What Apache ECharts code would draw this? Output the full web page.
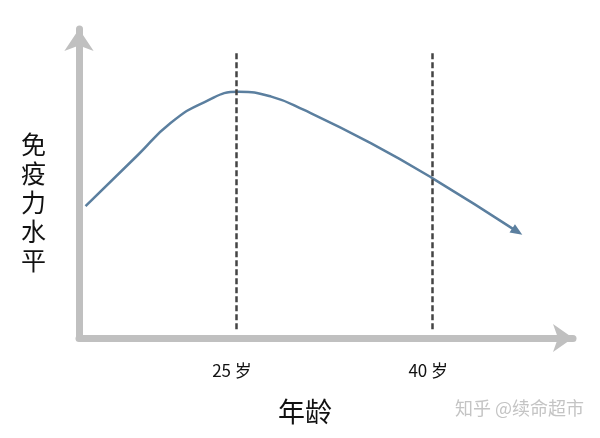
<!DOCTYPE html>
<html>
<head>
<meta charset="utf-8">
<script src="https://cdn.jsdelivr.net/npm/echarts@6/dist/echarts.min.js"></script>
<style>html,body{margin:0;padding:0;background:#fff}#c{width:600px;height:438px}</style>
</head>
<body>
<div id="c"></div>
<script>
// Data (age in years, immunity level on a 0-100 scale)
const ages = [13.5, 17.5, 20.0, 22.6, 25.2, 27.7, 30.2, 35.3, 40.0, 46.5];
const immunity = [43.4, 60.2, 70.7, 77.6, 81.0, 79.4, 75.0, 64.1, 52.6, 35.0];
const markerAges = [25, 40];
const tickLabels = ['25 岁', '40 岁'];
const xName = '年龄';
const yName = '免疫力水平';
const watermark = '知乎 @续命超市';

const font = '"Noto Sans CJK SC", "Noto Sans", sans-serif';
const points = ages.map((a, i) => {
  const p = [a, immunity[i]];
  if (i === ages.length - 1) {
    return { value: p, symbol: 'triangle', symbolSize: [10, 12], symbolRotate: -123 };
  }
  return { value: p, symbol: 'none' };
});

const chart = echarts.init(document.getElementById('c'), null, { renderer: 'canvas' });
chart.setOption({
  animation: false,
  backgroundColor: '#fff',
  grid: { left: 79, right: 27, top: 29, bottom: 100 },
  xAxis: {
    type: 'value', min: 13, max: 50.76,
    splitLine: { show: false },
    axisLine: { show: true, lineStyle: { color: '#c0c0c0', width: 7 }, symbol: ['none', 'arrow'], symbolSize: [21, 20] },
    axisTick: { show: false },
    axisLabel: {
      show: true, customValues: markerAges, margin: 24,
      formatter: v => tickLabels[markerAges.indexOf(v)] || '',
      color: '#111', fontSize: 17, fontFamily: font, padding: [0, 8, 0, 0]
    },
    name: xName, nameLocation: 'middle', nameGap: 60,
    nameTextStyle: { color: '#111', fontSize: 27, fontFamily: font, padding: [0, 42, 0, 0] },
  },
  yAxis: {
    type: 'value', min: 0, max: 101.64,
    splitLine: { show: false },
    axisLine: { show: true, lineStyle: { color: '#c0c0c0', width: 7 }, symbol: ['none', 'arrow'], symbolSize: [22, 22] },
    axisTick: { show: false },
    axisLabel: { show: false },
  },
  graphic: [
    { type: 'text', left: 21, top: 130, style: { text: yName.split('').join('\n'), font: '25px ' + font, fill: '#111', lineHeight: 29 } },
    { type: 'text', left: 455, top: 399, style: { text: watermark, font: '18px ' + font, fill: '#c4c4c4' } }
  ],
  series: [{
    type: 'line',
    smooth: 0.5,
    data: points,
    lineStyle: { color: '#5b7f9f', width: 2.5 },
    itemStyle: { color: '#5b7f9f' },
    z: 3,
    markLine: {
      silent: true, symbol: ['none', 'none'], label: { show: false },
      lineStyle: { color: '#444', width: 2.5, type: [6, 3] },
      data: markerAges.map(a => [{ coord: [a, 93.7] }, { coord: [a, 2.6] }])
    }
  }]
});
</script>
</body>
</html>
